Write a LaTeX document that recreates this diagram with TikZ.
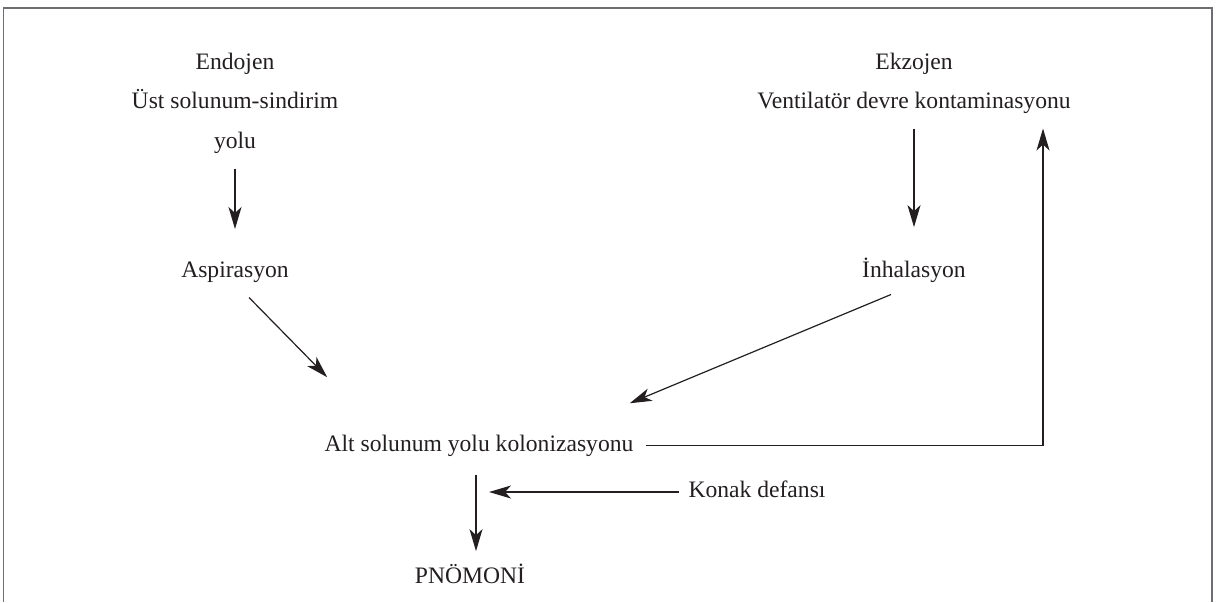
\documentclass[tikz,border=0pt]{standalone}
\usepackage{fontspec}
\setmainfont{Liberation Serif}
\usetikzlibrary{arrows.meta}
\definecolor{ink}{HTML}{231F20}
\definecolor{framegray}{HTML}{6D6E71}
\begin{document}
\begin{tikzpicture}[x=0.5pt,y=-0.5pt,
    lbl/.style={anchor=base, inner sep=0pt, text=ink, font=\fontsize{11.8}{14}\selectfont},
    arr/.style={draw=ink, line width=0.6pt, -{Stealth[length=11pt,width=6.5pt,inset=3pt]}},
    frame/.style={draw=framegray, line width=0.8pt}]

                    \useasboundingbox (0,0) rectangle (1220,602);
                    \draw[frame] (3.5,602) -- (3.5,8) -- (1212,8) -- (1212,602);

                    \node[lbl] (endo) at (235,69) {Endojen};
                    \node[lbl] (ust) at (235,108) {Üst solunum-sindirim};
                    \node[lbl] (yolu) at (235,148) {yolu};
                    \node[lbl] (asp) at (235,277) {Aspirasyon};

                    \node[lbl] (ekzo) at (914,69) {Ekzojen};
                    \node[lbl] (vent) at (914,108) {Ventilatör devre kontaminasyonu};
                    \node[lbl] (inh) at (914,277) {İnhalasyon};

                    \node[lbl] (alt) at (479,451) {Alt solunum yolu kolonizasyonu};
                    \node[lbl] (konak) at (757,497) {Konak defansı};
                    \node[lbl] (pnom) at (470,583) {PNÖMONİ};
                    \coordinate (hit) at (489,492);

                    \draw[arr, shorten <=7.5pt, shorten >=16pt] (yolu) -- (asp);
                    \draw[arr, shorten <=7.5pt, shorten >=15pt] (vent) -- (inh);
                    \draw[arr] ([xshift=7pt,yshift=-7.5pt]asp.south) -- ([xshift=1.5pt,yshift=28.5pt]alt.north west);
                    \draw[arr] ([xshift=-11.5pt,yshift=-6pt]inh.south) -- ([xshift=-2pt,yshift=15.5pt]alt.north east);
                    \draw[arr] ([xshift=6pt]alt.east) -| ([xshift=64.5pt,yshift=-7.5pt]vent.south);
                    \draw[arr] ([xshift=-1.5pt,yshift=-9pt]alt.south) -- ([xshift=3pt,yshift=6pt]pnom.north);
                    \draw[arr] ([xshift=-4.5pt]konak.west |- hit) -- (hit);
                \end{tikzpicture}
\end{document}
